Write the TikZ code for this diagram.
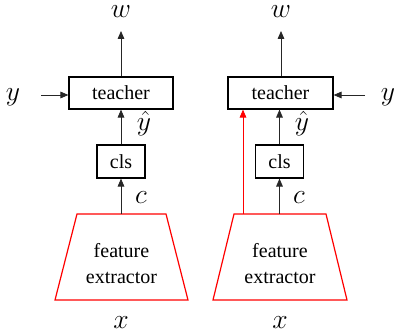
\documentclass[tikz,border=0pt]{standalone}
\usepackage{fontspec}
\setmainfont{Liberation Serif}
\usetikzlibrary{arrows.meta}
\begin{document}
\begin{tikzpicture}[x=0.75pt,y=-0.75pt,
  box/.style={draw=black,line width=0.9pt,inner sep=0pt,font=\rmfamily\fontsize{15}{17}\selectfont},
  lbl/.style={inner sep=0pt,anchor=base,font=\fontsize{21}{23}\selectfont},
  conn/.style={draw=black!85,line width=0.6pt,-{Triangle[length=6pt,width=5pt]}},
  redconn/.style={draw=red,line width=0.6pt,-{Triangle[length=6pt,width=5pt]}},
  fe/.style={draw=red,line width=0.9pt},
  fetext/.style={align=center,inner sep=0pt,font=\rmfamily\fontsize{15}{19.5}\selectfont}]
\useasboundingbox (0,0) rectangle (397,335);
% ---------- left ----------
\node[box,minimum width=78pt,minimum height=24pt] (tA) at (121,93) {teacher};
\node[box,minimum width=36pt,minimum height=24.75pt] (cA) at (121,161.5) {cls};
\coordinate (feAtl) at (77,214);
\coordinate (feAtr) at (166,214);
\coordinate (feAbr) at (188,300);
\coordinate (feAbl) at (55,300);
\coordinate (feAtop) at (121,214);
\draw[fe] (feAtl) -- (feAtr) -- (feAbr) -- (feAbl) -- cycle;
\node[fetext] (feA) at (121.5,264) {feature\\extractor};
\node[lbl] (wA) at (121,18) {$w$};
\node[lbl] (yA) at (13,101) {$y$};
\node[lbl] (yhA) at (144,131) {$\hat{y}$};
\node[lbl] (cvA) at (141,204) {$c$};
\node[lbl] (xA) at (121,328) {$x$};
\coordinate (wAend) at (121,31);
\coordinate (yAstart) at (41,95);
\draw[conn] (tA.north) -- (wAend);
\draw[conn] (yAstart) -- (yAstart -| tA.west);
\draw[conn] (cA.north) -- (tA.south);
\draw[conn] (feAtop) -- (cA.south);
% ---------- right ----------
\node[box,minimum width=78.75pt,minimum height=24pt] (tB) at (280.5,93) {teacher};
\node[box,minimum width=36pt,minimum height=24.75pt] (cB) at (279.5,161.5) {cls};
\coordinate (feBtl) at (234,214);
\coordinate (feBtr) at (326,214);
\coordinate (feBbr) at (347,300);
\coordinate (feBbl) at (213,300);
\coordinate (feBtop) at (279.5,214);
\coordinate (feBred) at (243,214);
\draw[fe] (feBtl) -- (feBtr) -- (feBbr) -- (feBbl) -- cycle;
\node[fetext] (feB) at (280,264) {feature\\extractor};
\node[lbl] (wB) at (281,18) {$w$};
\node[lbl] (yB) at (388,101) {$y$};
\node[lbl] (yhB) at (302,131) {$\hat{y}$};
\node[lbl] (cvB) at (299,204) {$c$};
\node[lbl] (xB) at (280,328) {$x$};
\coordinate (wBend) at (281,31);
\coordinate (yBstart) at (365,95);
\draw[conn] (tB.north -| wBend) -- (wBend);
\draw[conn] (yBstart) -- (yBstart -| tB.east);
\draw[conn] (cB.north) -- (tB.south -| cB.north);
\draw[conn] (feBtop) -- (cB.south);
\draw[redconn] (feBred) -- (feBred |- tB.south);
\end{tikzpicture}
\end{document}
